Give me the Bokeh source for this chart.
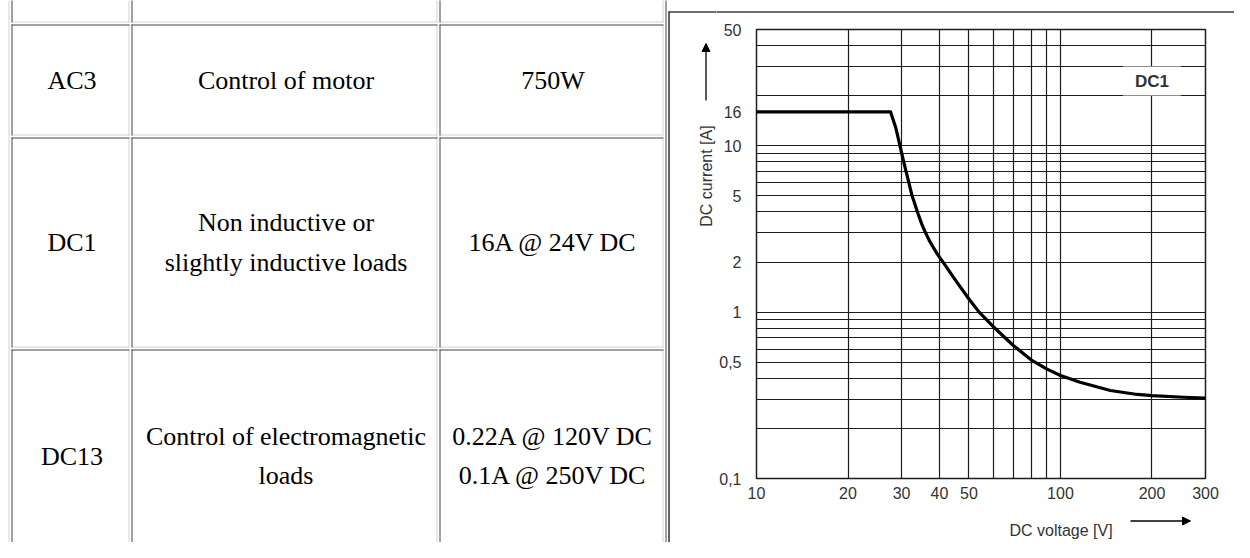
import math
from bokeh.plotting import figure
from bokeh.models import Range1d, FixedTicker, Label, Arrow, NormalHead
from bokeh.layouts import row, column
from bokeh.embed import file_html
from bokeh.resources import INLINE
from bokeh.core.properties import value

# ---------------- table content ----------------
codes = ["AC3", "DC1", "DC13"]
descriptions = ["Control of motor",
                "Non inductive or\nslightly inductive loads",
                "Control of electromagnetic\nloads"]
ratings = ["750W", "16A @ 24V DC", "0.22A @ 120V DC\n0.1A @ 250V DC"]

# ---------------- chart data ----------------
voltage = [10, 27.6, 28.7, 29.5, 30.5, 31.5, 32.5, 34, 35, 35.9, 37, 38, 39.5, 41.3, 45,
           50, 54, 60, 70, 80, 90, 100, 116, 146, 179, 200, 254, 300]
current = [16, 16, 12.9, 10.4, 8.0, 6.3, 5.0, 3.9, 3.37, 3.03, 2.70, 2.48, 2.21, 1.97, 1.57,
           1.2, 1.0, 0.82, 0.63, 0.517, 0.456, 0.416, 0.379, 0.338, 0.32, 0.315, 0.308, 0.304]

x_ticks = [10, 20, 30, 40, 50, 100, 200, 300]
x_tick_labels = ["10", "20", "30", "40", "50", "100", "200", "300"]
y_ticks = [0.1, 0.5, 1, 2, 5, 10, 16, 50]
y_tick_labels = ["0,1", "0,5", "1", "2", "5", "10", "16", "50"]
x_grid = [20, 30, 40, 50, 60, 70, 80, 90, 100, 200]
y_grid = [0.2, 0.3, 0.4, 0.5, 0.6, 0.7, 0.8, 0.9, 1, 2, 3, 4, 5, 6, 7, 8, 9, 10, 20, 30, 40]
curve_name = "DC1"
x_title = "DC voltage [V]"
y_title = "DC current [A]"

# ---------------- layout (pixels) ----------------
W, H = 1234, 542
TW = 716                 # left canvas: table + left side of chart picture
CW = W - TW              # right column width
TOP_H, BOT_H = 18, 38
PH = H - TOP_H - BOT_H
DARK, LIGHT = "#454545", "#d2d2d2"
FRAME_C = "#3c3c3c"
TXT_C = "#333333"
SANS = "Liberation Sans"


def canvas(x0, y0, w, h):
    f = figure(width=w, height=h, x_range=Range1d(x0, x0 + w), y_range=Range1d(y0 + h, y0),
               output_backend="svg", toolbar_location=None, x_axis_location=None,
               y_axis_location=None, min_border=0, outline_line_color=None, frame_align=False)
    f.grid.grid_line_color = None
    return f


# ---------------- table ----------------
rows_y = [(-100, 21), (24, 134), (137, 346), (349, 561)]
cols_x = [(11, 128), (131, 436), (439, 662)]

t = canvas(0, 0, TW, H)

dk = dict(x0=[], y0=[], x1=[], y1=[])
lt = dict(x0=[], y0=[], x1=[], y1=[])


def seg(d, a, b, c, e):
    d["x0"].append(a); d["y0"].append(b); d["x1"].append(c); d["y1"].append(e)


for (top, bot) in rows_y:
    for (l, r) in cols_x:
        seg(lt, l, bot + 0.5, r + 1, bot + 0.5)
        seg(lt, r + 0.5, top, r + 0.5, bot + 1)
        seg(dk, l, top + 0.5, r + 1, top + 0.5)
        seg(dk, l + 0.5, top, l + 0.5, bot + 1)
seg(lt, 8.5, -10, 8.5, 700)
seg(dk, 665.5, -10, 665.5, 700)

t.segment(line_color=LIGHT, line_width=1, **lt)
t.segment(line_color=DARK, line_width=1, **dk)

col_cx = [(l + r + 1) / 2 + 1.5 for (l, r) in cols_x]
row_cy = [(top + bot + 1) / 2 for (top, bot) in rows_y[1:]]
tx, ty, tt = [], [], []
for i in range(3):
    for j, col in enumerate([codes, descriptions, ratings]):
        tx.append(col_cx[j]); ty.append(row_cy[i]); tt.append(col[i])
t.text(x=tx, y=ty, text=tt, text_font=value("Liberation Serif"), text_font_size="26px",
       text_align="center", text_baseline="middle", text_color="black",
       text_line_height=1.35)

# left / top edge of the chart picture frame, y-axis title and arrow
t.segment(x0=[668.5, 668], y0=[11, 11.5], x1=[668.5, TW], y1=[600, 11.5],
          line_color=FRAME_C, line_width=1.6)
t.text(x=[705.5], y=[175.5], text=[y_title], angle=math.pi / 2, text_font=value(SANS),
       text_font_size="16px", text_color=TXT_C, text_align="center", text_baseline="middle")
t.add_layout(Arrow(end=NormalHead(size=8, fill_color="black", line_color="black"),
                   x_start=705.5, y_start=100, x_end=705.5, y_end=43, line_width=1.3))

# ---------------- top strip ----------------
tp = canvas(TW, 0, CW, TOP_H)
tp.segment(x0=[TW - 2], y0=[11.5], x1=[W + 5], y1=[11.5], line_color=FRAME_C, line_width=1.6)

# ---------------- chart ----------------
p = figure(width=CW, height=PH, x_axis_type="log", y_axis_type="log",
           x_range=Range1d(10, 300), y_range=Range1d(0.1, 50),
           output_backend="svg", toolbar_location=None, frame_align=False,
           min_border_left=756 - TW, min_border_right=29, min_border_top=11,
           min_border_bottom=26)

p.xgrid.ticker = FixedTicker(ticks=x_grid)
p.ygrid.ticker = FixedTicker(ticks=y_grid)
p.grid.grid_line_color = "#1c1c1c"
p.grid.grid_line_width = 1.2
p.outline_line_color = "#1c1c1c"
p.outline_line_width = 1.5

p.xaxis.ticker = FixedTicker(ticks=x_ticks)
p.yaxis.ticker = FixedTicker(ticks=y_ticks)
p.xaxis.major_label_overrides = dict(zip(x_ticks, x_tick_labels))
p.yaxis.major_label_overrides = dict(zip(y_ticks, y_tick_labels))
for ax in (p.xaxis, p.yaxis):
    ax.axis_line_color = None
    ax.major_tick_line_color = None
    ax.minor_tick_line_color = None
    ax.major_label_text_font = SANS
    ax.major_label_text_font_size = "16px"
    ax.major_label_text_color = TXT_C
p.xaxis.major_label_standoff = 2
p.yaxis.major_label_standoff = 9

p.line(voltage, current, line_width=3.2, line_color="black", line_join="round")

p.add_layout(Label(x=200, y=24.5, text=curve_name, text_font=SANS,
                   text_font_size="17px", text_font_style="bold", text_color=TXT_C,
                   text_align="center", text_baseline="middle",
                   background_fill_color="white",
                   padding=dict(left=12, right=12, top=5, bottom=5)))

# ---------------- bottom strip: x-axis title and arrow ----------------
b = canvas(TW, H - BOT_H, CW, BOT_H)
b.text(x=[1060.5], y=[530], text=[x_title], text_font=value(SANS), text_font_size="16px",
       text_color=TXT_C, text_align="center", text_baseline="middle")
b.add_layout(Arrow(end=NormalHead(size=8, fill_color="black", line_color="black"),
                   x_start=1130, y_start=520.5, x_end=1190, y_end=520.5, line_width=1.3))

layout = row(t, column(tp, p, b))
open("out.html", "w").write(file_html(layout, INLINE))
